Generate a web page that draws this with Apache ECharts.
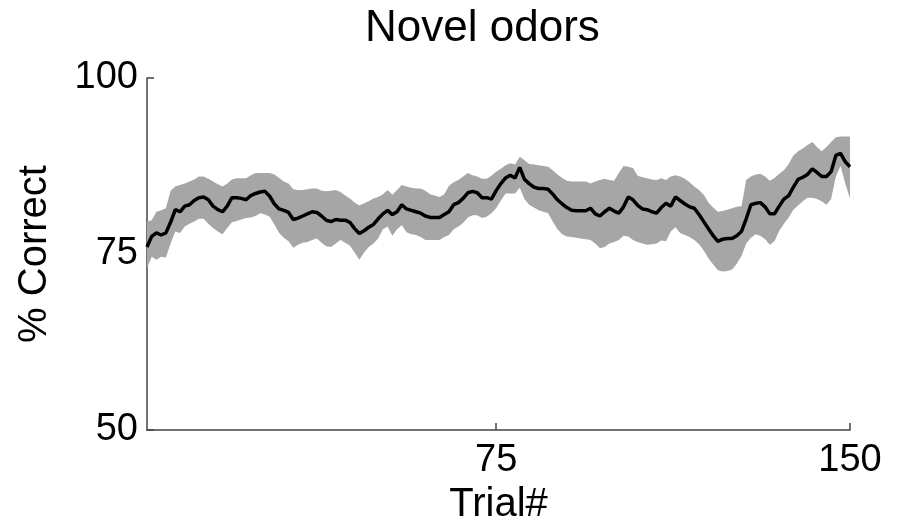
<!DOCTYPE html>
<html>
<head>
<meta charset="utf-8">
<script src="https://cdn.jsdelivr.net/npm/echarts@6/dist/echarts.min.js"></script>
<style>
  html, body { margin: 0; padding: 0; background: #fff; }
  #chart { width: 902px; height: 519px; }
</style>
</head>
<body>
<div id="chart"></div>
<script>
// trial-by-trial running average of % correct, with its error band
const meanCorrect = [
  76.0, 77.5, 78.0, 77.7, 78.0, 79.5, 81.3, 81.0, 81.8, 82.0,
  82.6, 83.0, 83.1, 82.7, 81.8, 81.3, 81.0, 81.8, 83.0, 83.0,
  82.9, 82.7, 83.3, 83.6, 83.8, 83.9, 83.2, 82.1, 81.4, 81.2,
  80.9, 79.9, 80.1, 80.4, 80.7, 81.0, 80.9, 80.4, 79.8, 79.6,
  79.9, 79.8, 79.8, 79.5, 78.6, 77.9, 78.3, 78.8, 79.2, 80.0,
  80.7, 81.2, 80.6, 81.0, 82.0, 81.4, 81.2, 81.0, 80.8, 80.4,
  80.2, 80.2, 80.2, 80.6, 81.0, 82.0, 82.3, 82.9, 83.7, 83.9,
  83.7, 83.0, 83.0, 82.8, 84.0, 85.0, 85.8, 86.2, 85.8, 87.3,
  85.6, 85.0, 84.5, 84.3, 84.3, 84.2, 83.5, 82.7, 82.1, 81.6,
  81.2, 81.15, 81.15, 81.15, 81.5, 80.7, 80.4, 81.0, 81.5, 81.1,
  80.8, 81.7, 83.1, 82.7, 81.9, 81.4, 81.3, 81.0, 80.8, 81.6,
  82.2, 81.8, 83.1, 82.6, 82.1, 81.7, 81.5, 80.6, 79.6, 78.6,
  77.6, 76.8, 77.1, 77.2, 77.2, 77.6, 78.2, 80.0, 82.0, 82.2,
  82.3, 81.7, 80.7, 80.7, 81.8, 82.8, 83.3, 84.5, 85.6, 85.9,
  86.3, 87.1, 86.6, 86.0, 86.0, 86.7, 89.0, 89.3, 88.1, 87.4
];

const upperBand = [
  79.6, 79.8, 81.0, 81.2, 81.5, 84.0, 84.6, 84.8, 85.0, 85.3,
  85.6, 86.0, 86.0, 85.7, 85.3, 84.9, 84.6, 85.0, 85.6, 85.75,
  85.75, 85.75, 86.2, 86.5, 86.5, 86.5, 86.5, 86.3, 85.8, 85.3,
  85.0, 84.2, 84.1, 84.1, 84.2, 84.3, 84.3, 84.0, 83.9, 84.0,
  84.1, 83.8, 83.3, 82.9, 82.3, 81.9, 82.2, 82.5, 82.9, 83.1,
  83.5, 84.1, 83.4, 84.1, 84.8, 84.6, 84.4, 84.3, 84.3, 84.0,
  83.5, 83.3, 83.1, 83.5, 84.7, 85.2, 85.5, 86.0, 86.5, 86.2,
  86.0, 85.7, 85.7, 86.1, 86.7, 87.1, 87.6, 87.9, 87.7, 88.8,
  88.3, 87.8, 87.7, 87.6, 87.5, 87.4, 86.9, 86.3, 85.8, 85.4,
  85.3, 85.3, 85.3, 85.3, 85.0, 85.3, 85.5, 85.7, 85.5, 85.4,
  86.5, 87.5, 87.4, 87.2, 86.1, 85.9, 85.75, 85.6, 85.5, 85.75,
  85.5, 86.0, 86.2, 86.0, 85.7, 85.2, 84.6, 84.1, 83.4, 82.3,
  81.6, 81.0, 81.1, 81.3, 81.5, 81.7, 81.8, 85.5, 86.0, 86.3,
  86.4, 86.0, 85.4, 85.8, 86.4, 86.9, 87.8, 89.0, 89.6, 90.0,
  90.5, 90.9, 90.2, 89.6, 90.2, 90.9, 91.6, 91.7, 91.7, 91.7
];

const lowerBand = [
  73.0, 74.6, 74.2, 74.6, 74.5, 76.5, 78.2, 78.0, 78.9, 79.3,
  79.6, 80.0, 80.0, 79.3, 78.7, 78.2, 77.8, 78.7, 79.5, 79.7,
  79.9, 80.1, 80.2, 80.4, 80.8, 80.6, 80.3, 79.2, 78.0, 77.3,
  76.8, 75.9, 76.3, 76.6, 76.7, 77.0, 77.2, 76.6, 76.1, 76.0,
  76.5, 77.0, 76.6, 76.2, 75.2, 74.2, 75.2, 76.0, 76.5, 77.2,
  78.5, 78.9, 77.6, 78.5, 79.1, 78.1, 77.8, 77.7, 77.4, 77.0,
  77.0, 77.0, 77.0, 77.4, 77.7, 78.5, 78.9, 79.4, 80.2, 80.5,
  80.5, 80.1, 80.3, 80.8, 81.5, 82.6, 83.6, 83.6, 83.6, 84.4,
  82.8, 82.0, 81.6, 81.2, 81.0, 80.8, 79.6, 78.5, 77.8, 77.5,
  77.4, 77.3, 77.2, 77.1, 77.0, 76.5, 75.8, 76.0, 76.5, 76.7,
  77.0, 77.6, 77.5, 77.0, 76.7, 76.5, 76.3, 76.4, 76.5, 76.9,
  76.8, 78.2, 78.8, 78.0, 77.7, 77.4, 77.0, 76.4, 75.5, 74.4,
  73.5, 72.7, 72.5, 72.6, 72.8, 73.6, 74.7, 76.5, 77.3, 77.8,
  77.6, 77.1, 76.3, 76.8, 78.3, 79.3, 80.2, 81.3, 81.9, 82.5,
  83.0, 83.0, 82.8, 82.5, 82.0, 82.8, 86.0, 87.5, 85.0, 82.9
];

const trials = meanCorrect.map((v, i) => String(i + 1));
const xTickLabels = ['75', '150'];
const yTicks = { min: 50, max: 100, step: 25 };

const fontFamily = 'Liberation Sans';
const axisColor = '#444444';

const chart = echarts.init(document.getElementById('chart'), null, { renderer: 'canvas' });

const showTick = (idx, val) => xTickLabels.indexOf(val) !== -1;

const option = {
  animation: false,
  backgroundColor: '#ffffff',
  textStyle: { fontFamily: fontFamily, color: '#000' },
  title: {
    text: 'Novel odors',
    left: 360,
    top: 2,
    textStyle: { fontFamily: fontFamily, fontSize: 44, fontWeight: 'normal', color: '#000' }
  },
  grid: {
    left: 147, right: 52, top: 78, bottom: 89,
    containLabel: false,
    outerBoundsMode: 'none'
  },
  xAxis: {
    type: 'category',
    data: trials,
    boundaryGap: false,
    name: 'Trial#',
    nameLocation: 'middle',
    nameGap: 46,
    nameTextStyle: { fontFamily: fontFamily, fontSize: 40, color: '#000' },
    axisLine: { lineStyle: { color: axisColor, width: 1.5 } },
    axisTick: { show: true, inside: true, length: 7, interval: showTick, lineStyle: { color: axisColor, width: 1.5 } },
    axisLabel: { interval: showTick, fontFamily: fontFamily, fontSize: 38, color: '#000', margin: 12 },
    splitLine: { show: false }
  },
  yAxis: {
    type: 'value',
    min: yTicks.min,
    max: yTicks.max,
    interval: yTicks.step,
    name: '% Correct',
    nameLocation: 'middle',
    nameGap: 92,
    nameTextStyle: { fontFamily: fontFamily, fontSize: 40, color: '#000' },
    axisLine: { show: true, lineStyle: { color: axisColor, width: 1.5 } },
    axisTick: { show: true, inside: true, length: 7, lineStyle: { color: axisColor, width: 1.5 } },
    axisLabel: { fontFamily: fontFamily, fontSize: 38, color: '#000', margin: 9 },
    splitLine: { show: false }
  },
  series: [
    {
      name: 'lower',
      type: 'line',
      data: lowerBand,
      stack: 'band',
      symbol: 'none',
      lineStyle: { opacity: 0 },
      silent: true
    },
    {
      name: 'band',
      type: 'line',
      data: upperBand.map((u, i) => u - lowerBand[i]),
      stack: 'band',
      symbol: 'none',
      lineStyle: { opacity: 0 },
      areaStyle: { color: '#a6a6a6', opacity: 1 },
      silent: true
    },
    {
      name: 'mean',
      type: 'line',
      data: meanCorrect,
      symbol: 'none',
      lineStyle: { color: '#000000', width: 3.5 },
      z: 5
    }
  ]
};

chart.setOption(option);
</script>
</body>
</html>
